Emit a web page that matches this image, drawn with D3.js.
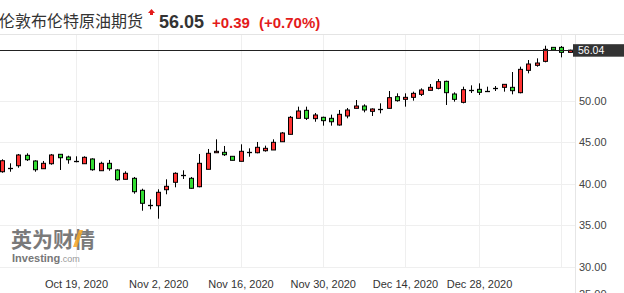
<!DOCTYPE html>
<html><head><meta charset="utf-8">
<script src="https://cdn.jsdelivr.net/npm/d3@7"></script>
<style>
html,body{margin:0;padding:0;background:#fff;overflow:hidden;}
svg{display:block;}
</style></head>
<body>
<svg id="chart" width="624" height="293"></svg>
<script>
const dates = [
 "2020-10-06","2020-10-07","2020-10-08","2020-10-09","2020-10-12","2020-10-13","2020-10-14","2020-10-15","2020-10-16","2020-10-19",
 "2020-10-20","2020-10-21","2020-10-22","2020-10-23","2020-10-26","2020-10-27","2020-10-28","2020-10-29","2020-10-30",
 "2020-11-02","2020-11-03","2020-11-04","2020-11-05","2020-11-06","2020-11-09","2020-11-10","2020-11-11","2020-11-12","2020-11-13",
 "2020-11-16","2020-11-17","2020-11-18","2020-11-19","2020-11-20","2020-11-23","2020-11-24","2020-11-25","2020-11-26","2020-11-27",
 "2020-11-30","2020-12-01","2020-12-02","2020-12-03","2020-12-04","2020-12-07","2020-12-08","2020-12-09","2020-12-10","2020-12-11",
 "2020-12-14","2020-12-15","2020-12-16","2020-12-17","2020-12-18","2020-12-21","2020-12-22","2020-12-23","2020-12-24",
 "2020-12-28","2020-12-29","2020-12-30","2020-12-31",
 "2021-01-04","2021-01-05","2021-01-06","2021-01-07","2021-01-08","2021-01-10","2021-01-11","2021-01-12"];
const open = [41.45,41.93,42.17,43.42,42.74,41.81,42.41,43.54,43.22,42.74, 42.41,42.98,41.57,42.46,41.66,40.54,40.66,39.22,37.46,
 37.37,39.29,40.18,41.10,40.66,39.65,41.74,43.73,43.78,43.30, 42.70,43.86,43.73,43.97,44.06,45.05,45.94,47.86,48.82,47.82,
 47.98,47.86,47.06,48.14,49.06,49.34,48.70,48.98,49.06,50.46, 50.14,50.38,50.74,51.22,51.46,52.30,50.78,49.78,51.30,
 51.34,51.18,51.46,51.58, 51.58,50.94,53.62,54.22,54.70,56.38,56.38,55.78];
const close = [42.77,41.93,43.46,42.89,41.69,42.46,43.46,43.13,42.89,42.74, 43.18,41.69,42.46,41.81,40.49,41.26,39.05,37.66,37.46,
 38.98,39.70,41.26,41.10,39.46,42.46,43.66,43.90,43.49,42.82, 43.90,43.86,44.38,44.26,44.98,46.10,47.98,48.74,47.86,48.26,
 47.58,47.45,48.34,48.86,49.34,48.86,48.98,48.98,50.34,49.98, 50.38,50.86,51.26,51.58,52.26,50.94,50.14,51.30,51.30,
 50.98,51.18,51.46,51.94, 51.18,53.74,54.38,54.50,56.14,56.06,55.78,56.04];
const high = [42.94,42.46,43.58,43.66,42.82,42.74,43.58,43.54,43.37,43.30, 43.30,43.06,42.65,42.86,41.74,41.50,40.82,39.41,38.14,
 39.34,40.54,41.38,41.62,40.82,43.58,44.18,45.34,44.54,43.30, 44.74,44.26,45.02,44.58,45.34,46.22,48.14,49.26,49.26,48.50,
 48.06,48.30,48.86,49.10,50.06,49.54,49.06,49.66,51.14,50.86, 50.86,51.06,51.46,51.98,52.58,52.38,50.98,51.66,51.82,
 52.06,51.66,51.74,51.94, 53.42,54.06,54.86,55.06,56.58,56.38,56.54,56.10];
const low = [41.33,41.45,41.93,42.74,41.45,41.81,42.29,41.66,42.41,42.58, 42.41,41.57,41.57,41.57,40.37,40.54,38.81,36.77,36.94,
 35.81,38.74,39.58,40.58,39.41,39.58,41.74,43.73,43.34,42.82, 42.70,43.25,43.66,43.86,44.06,45.05,45.94,47.86,47.66,47.45,
 46.98,46.98,46.98,47.86,49.06,48.58,48.14,48.46,49.06,49.86, 49.26,49.98,50.54,51.22,51.34,49.46,49.86,49.66,50.90,
 50.66,51.06,51.14,51.06, 50.74,50.86,53.26,54.06,54.58,56.06,55.18,55.78];
const yTicks = [30, 35, 40, 45, 50];
const tickDates = ["2020-10-19","2020-11-02","2020-11-16","2020-11-30","2020-12-14","2020-12-28","2021-01-11"];
const tickLabels = ["Oct 19, 2020","Nov 2, 2020","Nov 16, 2020","Nov 30, 2020","Dec 14, 2020","Dec 28, 2020",""];
const title = "伦敦布伦特原油期货";
const lastPrice = "56.05", change = "+0.39", changePct = "(+0.70%)";
const lastClose = 56.04;

const svg = d3.select("#chart");
const W = 624, H = 293;
const plotRight = 575, plotTop = 35;
svg.append("rect").attr("width", W).attr("height", H).attr("fill", "#fff");

const x = d3.scalePoint().domain(dates).range([2, 569.5]);
const y = d3.scaleLinear().domain([30, 50]).range([267.1, 100.5]);
const px = v => Math.round(v) + 0.5;

// separator under header
svg.append("line").attr("x1", 0).attr("x2", W).attr("y1", 34.5).attr("y2", 34.5)
  .attr("stroke", "#e4e4e4");

// gridlines
const grid = svg.append("g");
grid.selectAll("line.h").data(yTicks).join("line")
  .attr("x1", 0).attr("x2", plotRight).attr("y1", d => px(y(d))).attr("y2", d => px(y(d)))
  .attr("stroke", "#efefef");
grid.selectAll("line.v").data(tickDates).join("line")
  .attr("x1", d => px(x(d))).attr("x2", d => px(x(d)))
  .attr("y1", plotTop).attr("y2", px(y(30)))
  .attr("stroke", "#efefef");
svg.append("line").attr("x1", plotRight + 0.5).attr("x2", plotRight + 0.5)
  .attr("y1", plotTop).attr("y2", H).attr("stroke", "#e6e6e6");

// watermark
const wm = svg.append("g");
wm.append("text").attr("x", 11).attr("y", 247).text("英为财情")
  .attr("font-family", "'Noto Sans CJK SC', sans-serif").attr("font-weight", "bold")
  .attr("font-size", 21).attr("fill", "#7a7a7a");
wm.append("path").attr("d", "M73,247 L79,230 L83,230 L77,247 Z").attr("fill", "#f5a623").attr("opacity", 0.85);
const inv = wm.append("text").attr("x", 12).attr("y", 262)
  .attr("font-family", "'Liberation Sans', Arial, sans-serif").attr("fill", "#777");
inv.append("tspan").attr("font-size", 11).attr("font-weight", "bold").text("Investing");
inv.append("tspan").attr("font-size", 9).attr("fill", "#999").text(".com");

// y axis
const yAxis = svg.append("g").attr("transform", `translate(${plotRight},0)`)
  .call(d3.axisRight(y).tickValues(yTicks).tickFormat(d3.format(".2f")).tickSize(0).tickPadding(4));
yAxis.select(".domain").remove();
yAxis.selectAll("text").attr("font-family", "'Liberation Sans', Arial, sans-serif")
  .attr("font-size", 11).attr("fill", "#444");
// partially visible next label (cut by the bottom edge, as in the reference)
svg.append("text").attr("x", plotRight + 4).attr("y", 298).text("25.00")
  .attr("font-family", "'Liberation Sans', Arial, sans-serif").attr("font-size", 11).attr("fill", "#444");

// x axis
const xAxis = svg.append("g").attr("transform", `translate(0,${280})`)
  .call(d3.axisBottom(x).tickValues(tickDates).tickFormat((d, i) => tickLabels[i]).tickSize(0).tickPadding(0));
xAxis.select(".domain").remove();
xAxis.selectAll("text").attr("font-family", "'Liberation Sans', Arial, sans-serif")
  .attr("font-size", 11).attr("fill", "#333").attr("dy", "0.71em");

// candles
const data = dates.map((d, i) => ({d, o: open[i], h: high[i], l: low[i], c: close[i]}));
const cg = svg.append("g");
data.forEach(k => {
  const cx = Math.round(x(k.d));
  const g = cg.append("g");
  g.append("line").attr("x1", cx + 0.5).attr("x2", cx + 0.5)
    .attr("y1", y(k.h)).attr("y2", y(k.l)).attr("stroke", "#000").attr("stroke-width", 1);
  if (k.o === k.c) {
    g.append("line").attr("x1", cx - 2).attr("x2", cx + 3)
      .attr("y1", px(y(k.c))).attr("y2", px(y(k.c))).attr("stroke", "#000").attr("stroke-width", 1.3);
  } else {
    const top = y(Math.max(k.o, k.c)), bot = y(Math.min(k.o, k.c));
    g.append("rect").attr("x", cx - 1.5).attr("width", 4)
      .attr("y", top).attr("height", Math.max(bot - top, 0.8))
      .attr("fill", k.c > k.o ? "#ff3333" : "#33dd33")
      .attr("stroke", "#000").attr("stroke-width", 1);
  }
});

// last price line and label
svg.append("line").attr("x1", 0).attr("x2", plotRight - 2).attr("y1", px(y(lastClose))).attr("y2", px(y(lastClose)))
  .attr("stroke", "#222").attr("stroke-width", 1);
svg.append("rect").attr("x", plotRight - 2).attr("y", y(lastClose) - 6).attr("width", W - plotRight + 2).attr("height", 12.5)
  .attr("fill", "#333");
svg.append("text").attr("x", plotRight + 3).attr("y", y(lastClose) + 4).text(lastClose.toFixed(2))
  .attr("font-family", "'Liberation Sans', Arial, sans-serif").attr("font-size", 10.5).attr("fill", "#fff");

// header
svg.append("text").attr("x", -1).attr("y", 27).text(title)
  .attr("font-family", "'Noto Sans CJK SC', sans-serif").attr("font-size", 16).attr("fill", "#333");
svg.append("path").attr("d", "M148,13 L151.5,9 L155,13 L153,13 L153,15 L150,15 L150,13 Z").attr("fill", "#e31b1b");
svg.append("text").attr("x", 159).attr("y", 28).text(lastPrice)
  .attr("font-family", "'Liberation Sans', Arial, sans-serif").attr("font-weight", "bold")
  .attr("font-size", 18).attr("fill", "#333");
svg.append("text").attr("x", 212).attr("y", 28).text(change)
  .attr("font-family", "'Liberation Sans', Arial, sans-serif").attr("font-weight", "bold")
  .attr("font-size", 15).attr("fill", "#e31b1b");
svg.append("text").attr("x", 259).attr("y", 28).text(changePct)
  .attr("font-family", "'Liberation Sans', Arial, sans-serif").attr("font-weight", "bold")
  .attr("font-size", 15).attr("fill", "#e31b1b");
</script>
</body></html>
